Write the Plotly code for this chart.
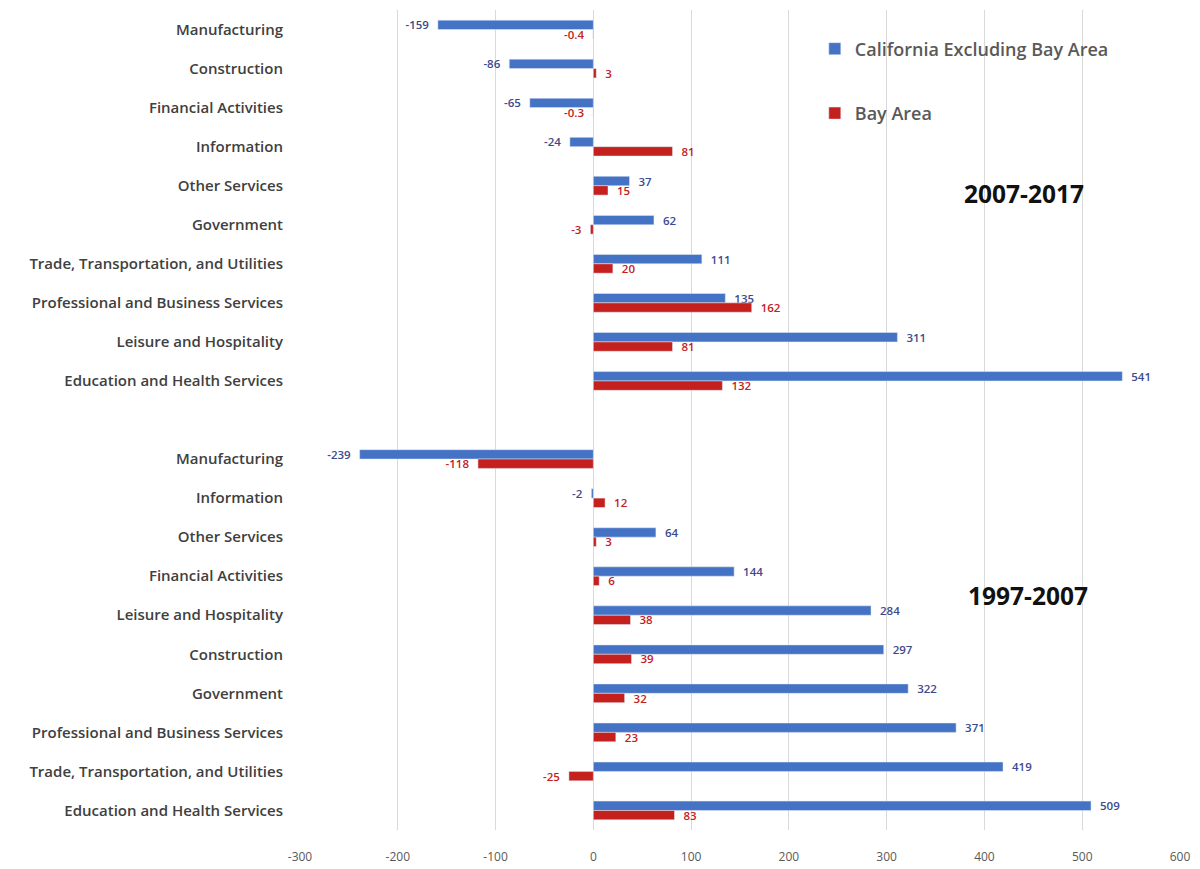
import plotly.graph_objects as go

# ---- data ----
cats_2007_2017 = ["Manufacturing", "Construction", "Financial Activities", "Information",
                  "Other Services", "Government", "Trade, Transportation, and Utilities",
                  "Professional and Business Services", "Leisure and Hospitality",
                  "Education and Health Services"]
ca_2007_2017 = [-159, -86, -65, -24, 37, 62, 111, 135, 311, 541]
bay_2007_2017 = [-0.4, 3, -0.3, 81, 15, -3, 20, 162, 81, 132]

cats_1997_2007 = ["Manufacturing", "Information", "Other Services", "Financial Activities",
                  "Leisure and Hospitality", "Construction", "Government",
                  "Professional and Business Services", "Trade, Transportation, and Utilities",
                  "Education and Health Services"]
ca_1997_2007 = [-239, -2, 64, 144, 284, 297, 322, 371, 419, 509]
bay_1997_2007 = [-118, 12, 3, 6, 38, 39, 32, 23, -25, 83]

series_names = ["California Excluding Bay Area", "Bay Area"]
period_labels = ["2007-2017", "1997-2007"]
x_ticks = [-300, -200, -100, 0, 100, 200, 300, 400, 500, 600]

# ---- positions (one blank slot between groups) ----
n1 = len(cats_2007_2017)
y_top = list(range(n1))
y_bot = [n1 + 1 + i for i in range(len(cats_1997_2007))]
y_all = y_top + y_bot
cats_all = cats_2007_2017 + cats_1997_2007
ca_all = ca_2007_2017 + ca_1997_2007
bay_all = bay_2007_2017 + bay_1997_2007

BLUE = "#4472C4"
RED = "#C4201E"
FONT = "Open Sans"
PAD = "\u00a0\u00a0"

def fmt(v):
    s = f"{v:g}"
    return s + PAD if v < 0 else PAD + s

fig = go.Figure()
fig.add_trace(go.Bar(
    y=y_all, x=ca_all, orientation="h", name=series_names[0],
    marker=dict(color=BLUE), legendgroup="a",
    text=[fmt(v) for v in ca_all], textposition="outside", constraintext="none",
    cliponaxis=False,
    textfont=dict(family=FONT, size=11.5, color="#3B4A8E", weight=600),
))
fig.add_trace(go.Bar(
    y=y_all, x=bay_all, orientation="h", name=series_names[1],
    marker=dict(color=RED), legendgroup="b",
    text=[fmt(v) for v in bay_all], textposition="outside", constraintext="none",
    cliponaxis=False,
    textfont=dict(family=FONT, size=11.5, color="#C4201E", weight=600),
))

fig.update_layout(
    width=1200, height=869,
    margin=dict(l=300, r=20, t=10, b=39),
    paper_bgcolor="white", plot_bgcolor="white",
    barmode="group", bargap=0.52, bargroupgap=0,
    font=dict(family=FONT, color="#404040"),
    legend=dict(
        x=0.585, y=0.975, xanchor="left", yanchor="top",
        bgcolor="rgba(0,0,0,0)", tracegroupgap=38,
        font=dict(family=FONT, size=18, color="#595959", weight=600),
    ),
    xaxis=dict(
        range=[-300, 600], tickvals=x_ticks, ticktext=[str(t) for t in x_ticks],
        showgrid=True, gridcolor="#D9D9D9", gridwidth=1, zeroline=False,
        showline=False, tickfont=dict(family=FONT, size=12, color="#595959"),
        ticks="", ticklabelstandoff=18, automargin=False,
    ),
    yaxis=dict(
        range=[len(y_all) + 0.5, -0.5],
        tickvals=y_all, ticktext=cats_all,
        showgrid=False, zeroline=False, showline=False, ticks="",
        tickfont=dict(family=FONT, size=15, color="#404040", weight=600),
        ticklabelstandoff=16, automargin=False,
    ),
    annotations=[
        dict(text=period_labels[0], x=440, y=4.2, xref="x", yref="y",
             showarrow=False, xanchor="center",
             font=dict(family=FONT, size=24.5, color="#111111", weight="bold")),
        dict(text=period_labels[1], x=445, y=14.5, xref="x", yref="y",
             showarrow=False, xanchor="center",
             font=dict(family=FONT, size=24.5, color="#111111", weight="bold")),
    ],
)

fig.write_html("out.html", config={"displayModeBar": False},
               post_script="document.body.style.margin='0';")
